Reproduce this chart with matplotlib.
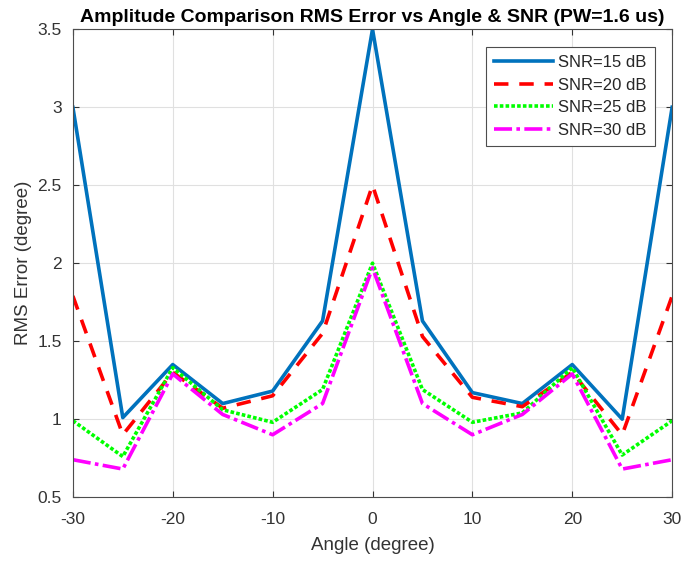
import matplotlib
matplotlib.use("Agg")
import matplotlib.pyplot as plt
from matplotlib.ticker import FuncFormatter

plt.rcParams['font.family'] = ['Liberation Sans', 'DejaVu Sans']
plt.rcParams['axes.unicode_minus'] = False

angles = [-30, -25, -20, -15, -10, -5, 0, 5, 10, 15, 20, 25, 30]
snr15 = [3.00, 1.01, 1.35, 1.10, 1.18, 1.63, 3.50, 1.63, 1.17, 1.10, 1.35, 1.00, 3.00]
snr20 = [1.79, 0.90, 1.30, 1.07, 1.15, 1.55, 2.50, 1.53, 1.14, 1.08, 1.30, 0.90, 1.79]
snr25 = [0.99, 0.76, 1.33, 1.06, 0.98, 1.19, 2.00, 1.19, 0.98, 1.04, 1.33, 0.77, 0.99]
snr30 = [0.74, 0.68, 1.29, 1.03, 0.90, 1.10, 1.97, 1.10, 0.90, 1.03, 1.29, 0.68, 0.74]
labels = ['SNR=15 dB', 'SNR=20 dB', 'SNR=25 dB', 'SNR=30 dB']

fig = plt.figure(figsize=(6.81, 5.63), dpi=100)
ax = fig.add_axes([0.107, 0.117, 0.880, 0.831])

ax.plot(angles, snr15, color='#0072BD', linestyle='-', linewidth=2.6, label=labels[0])
ax.plot(angles, snr20, color='#FF0000', linestyle=(0, (4, 3)), linewidth=2.6, label=labels[1])
ax.plot(angles, snr25, color='#00FF00', linestyle=(0, (1, 0.6)), linewidth=2.6, label=labels[2])
ax.plot(angles, snr30, color='#FF00FF', linestyle=(0, (5, 1.2, 1, 1.2)), linewidth=2.6, label=labels[3])

ax.set_xlim(-30, 30)
ax.set_ylim(0.5, 3.5)
ax.set_xticks([-30, -20, -10, 0, 10, 20, 30])
ax.set_yticks([0.5, 1, 1.5, 2, 2.5, 3, 3.5])
ax.yaxis.set_major_formatter(FuncFormatter(lambda v, p: f"{v:g}"))
ax.grid(True, color='#E0E0E0', linewidth=0.8)
ax.set_axisbelow(True)
for s in ax.spines.values():
    s.set_color('#4D4D4D')
    s.set_linewidth(0.8)
ax.tick_params(direction='in', top=True, right=True, labelsize=12.5, colors='#333333',
               length=4, pad=8)
ax.tick_params(axis='x', pad=11)

ax.set_xlabel('Angle (degree)', fontsize=13.5, color='#333333', labelpad=7)
ax.set_ylabel('RMS Error (degree)', fontsize=13.5, color='#333333')
ax.set_title('Amplitude Comparison RMS Error vs Angle & SNR (PW=1.6 us)',
             fontsize=14, fontweight='bold', pad=5)

leg = ax.legend(loc='upper right', fontsize=12, fancybox=False, framealpha=1,
                edgecolor='#4D4D4D', handlelength=3.5, borderaxespad=1.05,
                handletextpad=0.3, labelspacing=0.45, borderpad=0.5)
leg.get_frame().set_linewidth(0.8)
for t in leg.get_texts():
    t.set_color('#262626')

fig.savefig('out.png', dpi=100)
